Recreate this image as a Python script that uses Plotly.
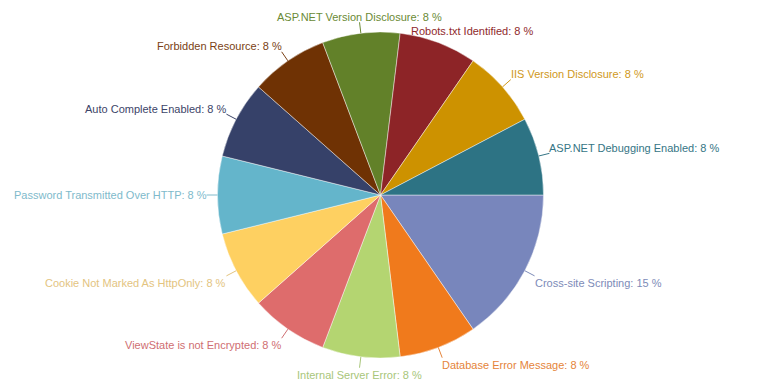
import math
import plotly.graph_objects as go

# ---- data ----
labels = [
    "Cross-site Scripting",
    "Database Error Message",
    "Internal Server Error",
    "ViewState is not Encrypted",
    "Cookie Not Marked As HttpOnly",
    "Password Transmitted Over HTTP",
    "Auto Complete Enabled",
    "Forbidden Resource",
    "ASP.NET Version Disclosure",
    "Robots.txt Identified",
    "IIS Version Disclosure",
    "ASP.NET Debugging Enabled",
]
counts = [2, 1, 1, 1, 1, 1, 1, 1, 1, 1, 1, 1]

# ---- styles ----
slice_colors = [
    "#7886bc", "#f07a1c", "#b4d571", "#de6c6c", "#fed061", "#64b5cb",
    "#364169", "#6f3204", "#628129", "#8d2427", "#cd9200", "#2d7384",
]
text_colors = [
    "#7d8bb8", "#e5843a", "#a8c67a", "#cf6e72", "#e3c47f", "#80bacb",
    "#3c4468", "#7a3f14", "#6a8a35", "#8f2a2c", "#cf981a", "#357585",
]
# collision shifts applied by the original renderer (px), keyed by label index
label_shift = {9: (-31, 4, False)}

W, H = 760, 390
CX, CY, R = 380.5, 195.0, 163.0
LEAD = 11
PAD = 3
FONT = "Liberation Sans, Arial, sans-serif"
FSIZE = 11

total = sum(counts)
pcts = [round(100 * c / total) for c in counts]

fig = go.Figure()
fig.add_trace(go.Pie(
    labels=labels,
    values=counts,
    sort=False,
    direction="clockwise",
    rotation=90,
    marker=dict(colors=slice_colors, line=dict(color="rgba(255,255,255,0.55)", width=0.8)),
    textinfo="none",
    hoverinfo="label+percent",
    domain=dict(x=[(CX - R) / W, (CX + R) / W], y=[1 - (CY + R) / H, 1 - (CY - R) / H]),
    showlegend=False,
))

def px2paper(x, y):
    return x / W, 1 - y / H

annotations = []
shapes = []
cum = 0.0
for i, (lab, c) in enumerate(zip(labels, counts)):
    mid = (cum + c / 2) / total * 360.0
    cum += c
    th = math.radians(mid)
    ux, uy = math.cos(th), math.sin(th)
    ex, ey = CX + R * ux, CY + R * uy
    ox, oy = CX + (R + LEAD) * ux, CY + (R + LEAD) * uy
    if ux > 0.2:
        xa = "left"
        tx = ox - PAD + 1
    elif ux < -0.2:
        xa = "right"
        tx = ox + PAD - 1
    else:
        xa = "center"
        tx = ox
    ty = oy + 7 * max(-1.0, min(1.0, uy / 0.25)) + (1.5 if uy < 0 else 0.0)
    show_line = True
    if i in label_shift:
        dx, dy, show_line = label_shift[i]
        tx += dx
        ty += dy
    if show_line:
        x0, y0 = px2paper(ex, ey)
        x1, y1 = px2paper(ox, oy)
        shapes.append(dict(type="line", xref="paper", yref="paper", x0=x0, y0=y0, x1=x1, y1=y1,
                           line=dict(color=text_colors[i], width=1)))
    ax_, ay_ = px2paper(tx, ty)
    annotations.append(dict(
        x=ax_, y=ay_, xref="paper", yref="paper", xanchor=xa, yanchor="middle",
        text=f"{lab}: {pcts[i]} %", showarrow=False,
        font=dict(family=FONT, size=FSIZE, color=text_colors[i]),
    ))

fig.update_layout(
    width=W, height=H,
    margin=dict(l=0, r=0, t=0, b=0),
    paper_bgcolor="white",
    plot_bgcolor="white",
    showlegend=False,
    annotations=annotations,
    shapes=shapes,
)

fig.write_html("out.html")
